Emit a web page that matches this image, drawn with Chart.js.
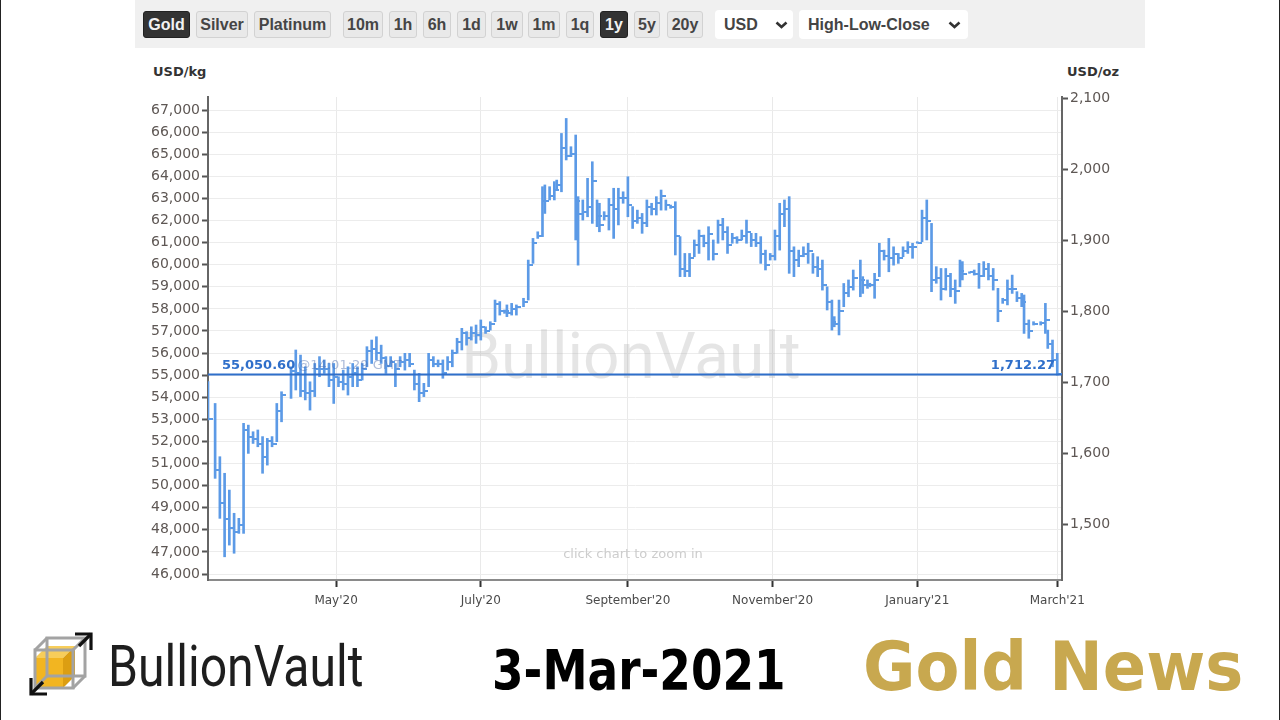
<!DOCTYPE html>
<html>
<head>
<meta charset="utf-8">
<title>Gold price, 1 year - BullionVault</title>
<script src="https://cdn.jsdelivr.net/npm/chart.js@4.4.1/dist/chart.umd.min.js"></script>
<style>
  html, body { margin: 0; padding: 0; }
  body { width: 1280px; height: 720px; position: relative; overflow: hidden; background: #fff; font-family: "DejaVu Sans", sans-serif; }
  .edge { position: absolute; top: 0; bottom: 0; width: 1px; background: #222; }
  #toolbar { position: absolute; left: 135px; top: 0; width: 1010px; height: 48px; background: #f0f0f0; }
  .btn { position: absolute; top: 11px; height: 27px; line-height: 26px; text-align: center; box-sizing: border-box;
         background: #e9e9e9; border: 1px solid #d2d2d2; border-radius: 3px;
         font-family: "Liberation Sans Narrow", "Liberation Sans", sans-serif; font-weight: bold; font-size: 16px; color: #454545; }
  .btn.on { background: #333; border-color: #222; color: #f2f2f2; }
  .sel { position: absolute; top: 10px; height: 29px; line-height: 29px; box-sizing: border-box; padding-left: 9px;
         background: #fff; border-radius: 4px;
         font-family: "Liberation Sans Narrow", "Liberation Sans", sans-serif; font-weight: bold; font-size: 16px; color: #444; }
  .sel svg { position: absolute; top: 11px; }
  .unit { position: absolute; top: 64px; font: bold 13px "DejaVu Sans", sans-serif; color: #333; }
  #chartBox { position: absolute; left: 135px; top: 50px; width: 1010px; height: 570px; }
  .big { position: absolute; white-space: nowrap; transform-origin: 0 0; }
</style>
</head>
<body>
<div class="edge" style="left:0"></div>
<div class="edge" style="left:1279px"></div>

<div id="toolbar">
  <div class="btn on" style="left:8px;width:47px">Gold</div>
  <div class="btn" style="left:61px;width:52px">Silver</div>
  <div class="btn" style="left:119px;width:77px">Platinum</div>
  <div class="btn" style="left:208px;width:40px">10m</div>
  <div class="btn" style="left:254px;width:28px">1h</div>
  <div class="btn" style="left:288px;width:28px">6h</div>
  <div class="btn" style="left:322px;width:29px">1d</div>
  <div class="btn" style="left:356px;width:32px">1w</div>
  <div class="btn" style="left:393px;width:32px">1m</div>
  <div class="btn" style="left:431px;width:28px">1q</div>
  <div class="btn on" style="left:465px;width:28px">1y</div>
  <div class="btn" style="left:499px;width:26px">5y</div>
  <div class="btn" style="left:532px;width:36px">20y</div>
  <div class="sel" style="left:580px;width:78px">USD
    <svg width="13" height="8" style="left:60px"><path d="M1.5 1.5 L6.5 6 L11.5 1.5" stroke="#333" stroke-width="2.6" fill="none"/></svg>
  </div>
  <div class="sel" style="left:664px;width:169px">High-Low-Close
    <svg width="13" height="8" style="left:149px"><path d="M1.5 1.5 L6.5 6 L11.5 1.5" stroke="#333" stroke-width="2.6" fill="none"/></svg>
  </div>
</div>

<div class="unit" style="left:153px">USD/kg</div>
<div class="unit" style="left:1067px">USD/oz</div>

<div id="chartBox"><canvas id="chart" width="1010" height="570"></canvas></div>

<svg style="position:absolute;left:29px;top:632px" width="64" height="64" viewBox="0 0 64 64">
  <polygon points="6,26 34,26 34,56 6,56" fill="#f2b521"/>
  <polygon points="6,26 18,14 46,14 34,26" fill="#f7cd5a"/>
  <polygon points="34,26 46,14 46,44 34,56" fill="#dc9e12"/>
  <g stroke="#a3a3a3" stroke-width="3" fill="none">
    <rect x="18" y="6" width="38" height="38"/>
    <rect x="6" y="18" width="38" height="38"/>
    <line x1="6" y1="18" x2="18" y2="6"/>
    <line x1="44" y1="18" x2="56" y2="6"/>
    <line x1="6" y1="56" x2="18" y2="44"/>
    <line x1="44" y1="56" x2="56" y2="44"/>
  </g>
  <g stroke="#111" stroke-width="3.2" fill="none">
    <polyline points="46,2 62,2 62,18"/>
    <line x1="62" y1="2" x2="50" y2="14"/>
    <polyline points="2,46 2,62 18,62"/>
    <line x1="2" y1="62" x2="14" y2="50"/>
  </g>
</svg>
<div class="big" style="left:108px;top:637px;font:58px/58px Roboto, sans-serif;color:#1e1e1e;transform:scaleX(0.83)">BullionVault</div>
<div class="big" style="left:492px;top:642px;font:bold 56px/56px 'DejaVu Sans', sans-serif;color:#000;transform:scaleX(0.81)">3-Mar-2021</div>
<div class="big" style="left:863px;top:633px;font:bold 68px/68px 'DejaVu Sans', sans-serif;color:#c8a84f;transform:scaleX(0.94)">Gold News</div>

<script>
// 1 kg = 32.1507466 troy oz, right axis is the same price per oz
const KG_IN_OZ = 32.1507466;

// x = days since 8 March 2020
const barDays = [
  0, 3, 5, 7, 9, 11, 13, 15, 17, 19, 21, 23, 25, 27, 29, 31, 35, 37, 39, 41,
  43, 45, 47, 49, 51, 53, 55, 57, 59, 61, 63, 65, 67, 69, 71, 73, 75, 77, 79, 81,
  83, 85, 87, 89, 91, 93, 95, 97, 99, 101, 103, 105, 107, 109, 111, 113, 115, 117, 119, 121,
  123, 125, 126, 128, 130, 133, 135, 137, 139, 141, 142, 144, 146, 147, 149, 151, 153, 155, 156, 158,
  160, 162, 164, 165, 167, 169, 171, 173, 175, 177, 179,
  181, 183, 185, 187, 189, 191, 193, 195, 197, 199, 201, 203, 205, 207, 209, 211, 213, 215, 217, 219,
  221, 223, 225, 227, 229, 231, 233, 235, 237, 239, 241, 243, 245, 247, 249, 251, 253, 255, 257, 259,
  261, 263, 264, 266, 268, 270, 272, 275, 276, 278, 279, 281, 283, 285, 287, 289, 291, 293, 295, 297,
  299, 301, 303, 305, 307, 309, 311, 313, 315, 317, 318, 321, 323, 325, 327, 329, 331, 333, 335, 337,
  339, 341, 343, 344, 346, 348, 351, 353, 354, 356, 358
];
const barHighs = [
  54710, 53720, 51310, 50560, 49800, 48750, 48520, 52820, 52740, 52440, 52520, 52220, 52140, 52220, 53720, 54250, 55380, 56140, 55910, 55380,
  54700, 55530, 55840, 55690, 55530, 55530, 54930, 55230, 55380, 55530, 55380, 55530, 56290, 56590, 56740, 56360, 55840, 55840, 55530, 55840,
  55990, 55990, 55230, 55080, 54630, 55990, 55840, 55690, 55690, 55840, 56140, 56670, 57120, 56970, 57190, 57270, 57500, 57190, 57420, 58400,
  58330, 57950, 58180, 58250, 58180, 58480, 60210, 61190, 61490, 63530, 63610, 63530, 63760, 63830, 65940, 66620, 65340, 65870, 63080, 62930,
  63910, 64660, 62930, 62780, 62400, 63000, 63460, 63460, 63300, 63980, 62630,
  62470, 62320, 62930, 62780, 63080, 63380, 62930, 62700, 62850, 61270, 60510, 60510, 61120, 61570, 61340, 61720, 61120, 62020, 62100, 61720,
  61420, 61270, 61570, 62020, 61420, 61420, 61270, 60660, 60510, 61570, 62780, 62930, 63080, 60810, 60660, 60810, 60970, 60510, 60360, 60210,
  59000, 58400, 57650, 58400, 59150, 59310, 59760, 60210, 59460, 59310, 59160, 59610, 60970, 60660, 61190, 60810, 60510, 60810, 61040, 60970,
  61040, 62470, 62930, 61870, 59910, 59830, 59830, 59610, 59310, 60210, 60140, 59680, 59760, 60060, 60140, 60060, 59830, 58930, 58480, 59310,
  59530, 58780, 58700, 58630, 57500, 57420, 57420, 58250, 57040, 56590, 55990
];
const barLows = [
  52970, 50330, 48520, 46780, 47310, 46940, 47840, 47840, 51460, 51910, 51760, 50560, 50930, 51760, 51990, 52890, 53950, 54330, 54030, 53880,
  53420, 54030, 54930, 55080, 54480, 53720, 54480, 54330, 54100, 54480, 54480, 54780, 55380, 55530, 55690, 55530, 55080, 55380, 54480, 55380,
  55230, 55380, 54330, 53800, 54030, 54480, 55380, 55380, 54860, 55230, 55380, 55990, 56140, 56360, 56590, 56440, 56590, 56890, 57040, 57420,
  57720, 57800, 57650, 57720, 57720, 58100, 58400, 60060, 61190, 61270, 62320, 62930, 62930, 63380, 63300, 64740, 64890, 61120, 59980, 62020,
  62170, 61870, 61720, 61490, 62020, 61570, 61190, 61800, 62780, 62170, 61640,
  61870, 61420, 61720, 62250, 62250, 62470, 62470, 62550, 60440, 59460, 59460, 59460, 60360, 60510, 60810, 60210, 60210, 60970, 61120, 60510,
  60970, 60970, 61120, 60970, 60820, 60820, 60060, 59760, 60210, 60210, 60660, 61720, 59610, 59460, 59910, 60360, 60060, 59610, 59460, 58850,
  57950, 57040, 57190, 56820, 58100, 58550, 58850, 58550, 58700, 58930, 59000, 58480, 59460, 60210, 59680, 59980, 60060, 60360, 60510, 60290,
  60970, 61040, 61120, 58780, 59160, 58400, 58850, 58550, 58250, 59000, 59310, 59610, 59530, 58930, 59460, 59310, 58850, 57420, 58250, 58180,
  58700, 58330, 58100, 56890, 56670, 57270, 57270, 56890, 56210, 55380, 55000
];
const barCloses = [
  53000, 50700, 49200, 48500, 48100, 47900, 48200, 52500, 52200, 52100, 51900, 51300, 52000, 51900, 53400, 54100, 55200, 55100, 54300, 54200,
  54300, 55300, 55300, 55300, 54800, 54900, 54700, 54600, 54900, 55100, 54800, 55300, 56100, 56200, 56000, 55800, 55400, 55600, 55300, 55600,
  55700, 55500, 54600, 54200, 54300, 55700, 55500, 55500, 55100, 55600, 56000, 56500, 56900, 56700, 56900, 56800, 57200, 57000, 57300, 58200,
  57900, 57900, 57800, 58000, 58100, 58300, 60000, 61000, 61300, 62900, 62900, 63100, 63400, 63600, 65300, 64900, 65000, 62900, 62300, 62400,
  62600, 63800, 62200, 61800, 62200, 62700, 62500, 63000, 63000, 62700, 62000,
  62100, 61900, 62600, 62500, 62800, 63100, 62700, 62600, 61300, 59800, 59700, 60300, 60900, 61300, 61000, 61400, 60500, 61800, 61500, 60900,
  61200, 61100, 61300, 61500, 61100, 61000, 60500, 60000, 60400, 61300, 62300, 62500, 60600, 60200, 60400, 60500, 60600, 59900, 59800, 59100,
  58300, 57400, 57300, 57900, 58700, 59000, 59400, 59300, 59100, 59100, 59100, 59300, 60600, 60400, 60300, 60500, 60300, 60600, 60800, 60800,
  61000, 62100, 62000, 59300, 59400, 58900, 59500, 58900, 58800, 59700, 59600, 59650, 59600, 59500, 59800, 59500, 59300, 57900, 58400, 58900,
  58900, 58500, 58300, 57300, 57000, 57300, 57350, 57500, 56400, 55700, 55050.60
];

const monthTickDays = [54, 115, 177, 238, 299, 358];
const monthTickLabels = ["May'20", "July'20", "September'20", "November'20", "January'21", "March'21"];
const kgTicks = [46000, 47000, 48000, 49000, 50000, 51000, 52000, 53000, 54000, 55000, 56000,
  57000, 58000, 59000, 60000, 61000, 62000, 63000, 64000, 65000, 66000, 67000];
const ozTicks = [1500, 1600, 1700, 1800, 1900, 2000, 2100];
const lastTime = "@14:01:29 GMT";

const kgMin = 45730;
const kgMax = 67590;
const barColor = "#5c9ae6";
const lineColor = "#2f6fca";

// little tick on the right side of each bar for the close
const closeTick = document.createElement("canvas");
closeTick.width = 9;
closeTick.height = 2;
const tctx = closeTick.getContext("2d");
tctx.fillStyle = barColor;
tctx.fillRect(5, 0, 4, 2);

const lastClose = barCloses[barCloses.length - 1];
const fmt = (v, d) => v.toLocaleString("en-US", { minimumFractionDigits: d, maximumFractionDigits: d });

const overlay = {
  id: "overlay",
  beforeDatasetsDraw(chart) {
    const { ctx, chartArea } = chart;
    const cx = (chartArea.left + chartArea.right) / 2;
    ctx.save();
    ctx.textAlign = "center";
    ctx.textBaseline = "middle";
    ctx.fillStyle = "rgba(175,175,175,0.32)";
    ctx.font = "64px Roboto";
    ctx.fillText("BullionVault", cx - 4, chartArea.top + (chartArea.bottom - chartArea.top) * 0.548);
    ctx.fillStyle = "#cdcdcd";
    ctx.font = "13px 'DejaVu Sans'";
    ctx.fillText("click chart to zoom in", cx - 2, chartArea.bottom - 25);
    ctx.restore();
  },
  afterDatasetsDraw(chart) {
    const { ctx, chartArea, scales } = chart;
    const y = Math.round(scales.y.getPixelForValue(lastClose)) + 0.5;
    ctx.save();
    ctx.strokeStyle = lineColor;
    ctx.lineWidth = 2;
    ctx.beginPath();
    ctx.moveTo(chartArea.left, y);
    ctx.lineTo(chartArea.right, y);
    ctx.stroke();

    ctx.textBaseline = "bottom";
    ctx.font = "bold 13px 'DejaVu Sans'";
    ctx.fillStyle = lineColor;
    ctx.textAlign = "left";
    const kgText = fmt(lastClose, 2);
    ctx.fillText(kgText, chartArea.left + 14, y - 2);
    const w = ctx.measureText(kgText).width;
    ctx.font = "13px 'DejaVu Sans'";
    ctx.fillStyle = "rgba(70,105,170,0.45)";
    ctx.fillText(lastTime, chartArea.left + 16 + w, y - 2);

    ctx.font = "bold 13px 'DejaVu Sans'";
    ctx.fillStyle = lineColor;
    ctx.textAlign = "right";
    ctx.fillText(fmt(lastClose / KG_IN_OZ, 2), chartArea.right - 7, y - 2);
    ctx.restore();
  }
};

new Chart(document.getElementById("chart"), {
  type: "bar",
  data: {
    datasets: [
      {
        type: "bar",
        data: barDays.map((d, i) => ({ x: d, y: [barLows[i], barHighs[i]] })),
        backgroundColor: barColor,
        barThickness: 2,
        borderWidth: 0,
        yAxisID: "y"
      },
      {
        type: "scatter",
        data: barDays.map((d, i) => ({ x: d, y: barCloses[i] })),
        pointStyle: closeTick,
        showLine: false,
        yAxisID: "y"
      }
    ]
  },
  options: {
    responsive: false,
    animation: false,
    events: [],
    layout: { padding: { top: 47, left: 0, right: 0, bottom: 0 } },
    plugins: { legend: { display: false }, tooltip: { enabled: false } },
    scales: {
      x: {
        type: "linear",
        min: 0,
        max: 360,
        offset: false,
        afterBuildTicks: (s) => { s.ticks = monthTickDays.map((v) => ({ value: v })); },
        afterFit: (s) => { s.height = 40; },
        grid: { color: "#e9e9e9", offset: false, tickColor: "#333", tickLength: 7, tickWidth: 2 },
        border: { color: "#8a8a8a", width: 2 },
        ticks: {
          autoSkip: false,
          maxRotation: 0,
          padding: 7,
          color: "#4a4a4a",
          font: { family: "DejaVu Sans", size: 12 },
          callback: (v) => monthTickLabels[monthTickDays.indexOf(v)]
        }
      },
      y: {
        position: "left",
        min: kgMin,
        max: kgMax,
        afterBuildTicks: (s) => { s.ticks = kgTicks.map((v) => ({ value: v })); },
        afterFit: (s) => { s.width = 73; },
        grid: { color: "#ececec", tickColor: "#555", tickLength: 6, tickWidth: 2 },
        border: { color: "#666", width: 2 },
        ticks: {
          autoSkip: false,
          padding: 2,
          color: "#5e5754",
          font: { family: "DejaVu Sans", size: 14 },
          callback: (v) => fmt(v, 0)
        }
      },
      y1: {
        position: "right",
        min: kgMin / KG_IN_OZ,
        max: kgMax / KG_IN_OZ,
        afterBuildTicks: (s) => { s.ticks = ozTicks.map((v) => ({ value: v })); },
        afterFit: (s) => { s.width = 83; },
        grid: { drawOnChartArea: false, tickColor: "#555", tickLength: 6, tickWidth: 2 },
        border: { color: "#666", width: 2 },
        ticks: {
          autoSkip: false,
          padding: 2,
          color: "#5e5754",
          font: { family: "DejaVu Sans", size: 14 },
          callback: (v) => fmt(v, 0)
        }
      }
    }
  },
  plugins: [overlay]
});
</script>
</body>
</html>
